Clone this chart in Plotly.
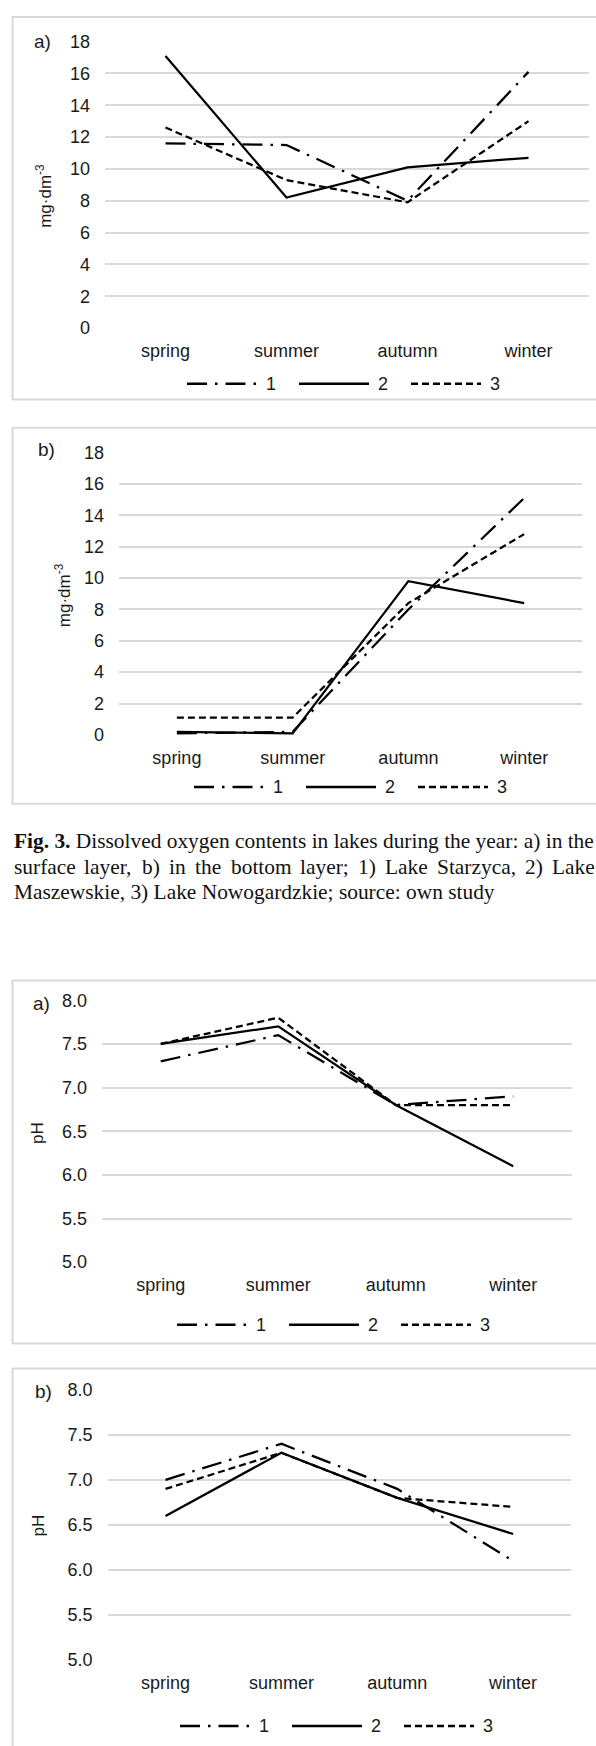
import plotly.graph_objects as go

W, H = 596, 1746

seasons = ["spring", "summer", "autumn", "winter"]
series_names = ["1", "2", "3"]

# dissolved oxygen, mg·dm-3 (surface / bottom layer)
oxygen_surface_1 = [11.6, 11.5, 8.0, 16.1]
oxygen_surface_2 = [17.1, 8.2, 10.1, 10.7]
oxygen_surface_3 = [12.6, 9.3, 7.9, 13.0]

oxygen_bottom_1 = [0.1, 0.2, 8.0, 15.1]
oxygen_bottom_2 = [0.2, 0.1, 9.8, 8.4]
oxygen_bottom_3 = [1.1, 1.1, 8.4, 12.8]

# pH (surface / bottom layer)
ph_surface_1 = [7.3, 7.6, 6.8, 6.9]
ph_surface_2 = [7.5, 7.7, 6.8, 6.1]
ph_surface_3 = [7.5, 7.8, 6.8, 6.8]

ph_bottom_1 = [7.0, 7.4, 6.9, 6.1]
ph_bottom_2 = [6.6, 7.3, 6.8, 6.4]
ph_bottom_3 = [6.9, 7.3, 6.8, 6.7]

oxygen_ticks = [0, 2, 4, 6, 8, 10, 12, 14, 16, 18]
ph_ticks = [5.0, 5.5, 6.0, 6.5, 7.0, 7.5, 8.0]

caption_line1 = "<b>Fig. 3.</b> Dissolved oxygen contents in lakes during the year: a) in the"
caption_line2 = ["surface", "layer,", "b)", "in", "the", "bottom", "layer;", "1)", "Lake",
                 "Starzyca,", "2)", "Lake"]
caption_line2_x = [12, 82, 140, 167, 193, 229, 298, 356, 383, 435, 523, 550]
caption_line3 = "Maszewskie, 3) Lake Nowogardzkie; source: own study"

DASHES = ["20px,8px,2.5px,8px", "solid", "7px,4px"]
GRID = "#d9d9d9"
TEXT = "#1a1a1a"
SANS = "Liberation Sans, Arial, sans-serif"
SERIF = "Liberation Serif, Times New Roman, serif"

# pixel layout of each panel: plot box (x0, x1, ytop, ybottom), frame, labels
panels = [
    dict(series=[oxygen_surface_1, oxygen_surface_2, oxygen_surface_3], ticks=oxygen_ticks,
         rng=[0, 18], fmt="d", tag="a)", title="mg·dm<sup>-3</sup>",
         plot=(105, 589, 32, 321.7), frame=(7, 394), tag_xy=(42, 32), title_xy=(44, 188),
         legend_y=378, legend_c=347),
    dict(series=[oxygen_bottom_1, oxygen_bottom_2, oxygen_bottom_3], ticks=oxygen_ticks,
         rng=[0, 18], fmt="d", tag="b)", title="mg·dm<sup>-3</sup>",
         plot=(119, 582, 447.7, 733.3), frame=(422.7, 803), tag_xy=(46, 445), title_xy=(63, 592),
         legend_y=786, legend_c=354),
    dict(series=[ph_surface_1, ph_surface_2, ph_surface_3], ticks=ph_ticks,
         rng=[5, 8], fmt=".1f", tag="a)", title="pH",
         plot=(102, 572, 1001.7, 1266.7), frame=(981.7, 1349), tag_xy=(41, 1005), title_xy=(38, 1136),
         legend_y=1330, legend_c=337),
    dict(series=[ph_bottom_1, ph_bottom_2, ph_bottom_3], ticks=ph_ticks,
         rng=[5, 8], fmt=".1f", tag="b)", title="pH",
         plot=(107.6, 571, 1395.7, 1669.3), frame=(1374.3, 1765), tag_xy=(43, 1398), title_xy=(38, 1533),
         legend_y=1736, legend_c=340),
]


def px(x):
    return x / W


def py(y):
    return 1 - y / H


def label(text, x, y, size, family=SANS, xanchor="center", **kw):
    return dict(text=text, x=px(x), y=py(y), xref="paper", yref="paper", showarrow=False,
                xanchor=xanchor, yanchor="middle",
                font=dict(family=family, size=size, color=kw.pop("color", TEXT)), **kw)


fig = go.Figure()
shapes = []
annotations = []
layout_axes = {}

for i, p in enumerate(panels, start=1):
    sfx = "" if i == 1 else str(i)
    x0, x1, yt, yb = p["plot"]
    for name, values, dash in zip(series_names, p["series"], DASHES):
        fig.add_trace(go.Scatter(
            x=seasons, y=values, name=name, mode="lines",
            line=dict(color="black", width=2.25, dash=dash),
            xaxis="x" + sfx, yaxis="y" + sfx, showlegend=False,
        ))
    layout_axes["xaxis" + sfx] = dict(
        domain=[px(x0), px(x1)], anchor="y" + sfx, type="category",
        range=[-0.5, 3.5], showgrid=False, showline=False, zeroline=False, ticks="",
        tickfont=dict(family=SANS, size=18, color=TEXT), ticklabelstandoff=10,
    )
    layout_axes["yaxis" + sfx] = dict(
        domain=[py(yb), py(yt)], anchor="x" + sfx, range=p["rng"], tickvals=p["ticks"],
        tickformat=p["fmt"], showgrid=True, gridcolor=GRID, gridwidth=1.5,
        showline=False, zeroline=False, ticks="",
        tickfont=dict(family=SANS, size=18, color=TEXT), ticklabelstandoff=14,
    )

    # chart frame
    fy0, fy1 = p["frame"]
    shapes.append(dict(type="rect", xref="paper", yref="paper", x0=px(12.5), x1=px(620),
                       y0=py(fy1), y1=py(fy0), line=dict(color=GRID, width=2)))

    # panel tag and axis title
    annotations.append(label(p["tag"], *p["tag_xy"], 19))
    annotations.append(label(p["title"], *p["title_xy"], 17, textangle=-90))

    # legend drawn below each chart
    start = p["legend_c"] - 160
    ly = p["legend_y"]
    for k, (name, dash) in enumerate(zip(series_names, DASHES)):
        lx = start + k * 112
        shapes.append(dict(type="line", xref="paper", yref="paper",
                           x0=px(lx), x1=px(lx + 70), y0=py(ly), y1=py(ly),
                           line=dict(color="black", width=2.5, dash=dash)))
        annotations.append(label(name, lx + 77, ly, 18, xanchor="left"))

# figure caption
annotations.append(label(caption_line1, 12, 841, 21.4, family=SERIF, xanchor="left", color="#111111"))
for word, wx in zip(caption_line2, caption_line2_x):
    annotations.append(label(word, wx, 867, 21.4, family=SERIF, xanchor="left", color="#111111"))
annotations.append(label(caption_line3, 12, 892, 21.4, family=SERIF, xanchor="left", color="#111111"))

fig.update_layout(
    width=W, height=H, margin=dict(l=0, r=0, t=0, b=0),
    paper_bgcolor="white", plot_bgcolor="white",
    shapes=shapes, annotations=annotations, showlegend=False,
    **layout_axes,
)

fig.write_html("out.html", config={"displayModeBar": False},
               post_script="document.body.style.margin='0';"
                           "document.body.style.overflow='hidden';")
